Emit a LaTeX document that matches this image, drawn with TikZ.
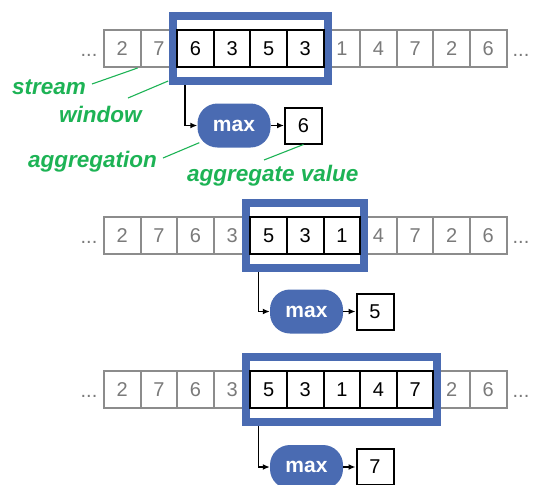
\documentclass[tikz,border=0pt]{standalone}
\usepackage{fontspec}
\setmainfont{Liberation Sans}
\usetikzlibrary{arrows.meta}
\definecolor{wblue}{HTML}{4A6BB2}
\definecolor{lgreen}{HTML}{1DB355}
\definecolor{cgray}{HTML}{8C8C8C}
\definecolor{tgray}{HTML}{7A7A7A}
\begin{document}
\begin{tikzpicture}[x=1pt,y=-1pt,
  gcell/.style={draw=cgray, line width=2pt, minimum width=36.6pt, minimum height=37pt, inner sep=0pt, text=tgray, font=\fontsize{20}{20}\selectfont},
  bcell/.style={draw=black, line width=2pt, minimum width=36.6pt, minimum height=37pt, inner sep=0pt, text=black, font=\fontsize{20}{20}\selectfont},
  winframe/.style={draw=wblue, line width=8pt, fill=white, minimum height=65pt, inner sep=0pt},
  aggr/.style={fill=wblue, draw=none, rounded corners=20pt, minimum width=73pt, minimum height=44pt, text=white, font=\bfseries\fontsize{21}{21}\selectfont, inner sep=0pt},
  valbox/.style={draw=black, line width=2pt, minimum width=37pt, minimum height=36pt, inner sep=0pt, font=\fontsize{20}{20}\selectfont},
  lbl/.style={text=lgreen, font=\bfseries\itshape\fontsize{22.5}{22.5}\selectfont, inner sep=0pt, anchor=base west},
  lblline/.style={draw=lgreen, line width=1.1pt},
  conn/.style={draw=black, line width=1.6pt, -{Latex[length=7pt,width=6pt]}},
  dots/.style={text=tgray, font=\fontsize{20}{20}\selectfont, inner sep=0pt, anchor=base}
]
\useasboundingbox (0,0) rectangle (536,485);

% ---------- row 1 ----------
\foreach \v [count=\i] in {2,7,6,3,5,3,1,4,7,2,6}
  \node[gcell] (ra\i) at ({104+36.6*(\i-0.5)},48.5) {\v};
\node[dots] (rad1) at (89,56.5) {...};
\node[dots] (rad2) at (521,56.5) {...};
\node[winframe, minimum width=154.4pt] (wa) at (250.4,48.5) {};
\foreach \v [count=\i from 3] in {6,3,5,3}
  \node[bcell] (raw\i) at (ra\i) {\v};
\node[aggr] (ma) at (234,125.5) {max};
\node[valbox] (va) at (303.5,125.5) {6};
\draw[conn] ([xshift=16pt]wa.south west) |- (ma.west);
\draw[conn] (ma.east) -- (va.west);

% labels
\node[lbl] (lstream) at (12,94) {stream};
\node[lbl] (lwindow) at (59,122) {window};
\node[lbl] (lagg) at (28,167) {aggregation};
\node[lbl] (lval) at (187,181) {aggregate value};
\coordinate (cs) at (92,84);
\coordinate (cw) at (128,98);
\coordinate (cg) at (163,158);
\coordinate (cv) at (264,160);
\draw[lblline] (cs) -- ([xshift=-4pt]ra1.south east);
\draw[lblline] (cw) -- ([xshift=-1pt,yshift=4pt]wa.south west);
\draw[lblline] (cg) -- ([xshift=2pt,yshift=5pt]ma.south west);
\draw[lblline] (cv) -- (va.south);

% ---------- row 2 ----------
\foreach \v [count=\i] in {2,7,6,3,5,3,1,4,7,2,6}
  \node[gcell] (rb\i) at ({104+36.6*(\i-0.5)},235.5) {\v};
\node[dots] (rbd1) at (89,243.5) {...};
\node[dots] (rbd2) at (521,243.5) {...};
\node[winframe, minimum width=117.8pt] (wb) at (305.3,235.5) {};
\foreach \v [count=\i from 5] in {5,3,1}
  \node[bcell] (rbw\i) at (rb\i) {\v};
\node[aggr] (mb) at (306.5,311.5) {max};
\node[valbox] (vb) at (375,311.5) {5};
\draw[conn] ([xshift=16pt]wb.south west) |- (mb.west);
\draw[conn] (mb.east) -- (vb.west);

% ---------- row 3 ----------
\foreach \v [count=\i] in {2,7,6,3,5,3,1,4,7,2,6}
  \node[gcell] (rc\i) at ({104+36.6*(\i-0.5)},389.5) {\v};
\node[dots] (rcd1) at (89,397.5) {...};
\node[dots] (rcd2) at (521,397.5) {...};
\node[winframe, minimum width=191pt] (wc) at (341.9,389.5) {};
\foreach \v [count=\i from 5] in {5,3,1,4,7}
  \node[bcell] (rcw\i) at (rc\i) {\v};
\node[aggr] (mc) at (306.5,467) {max};
\node[valbox] (vc) at (375,467) {7};
\draw[conn] ([xshift=16pt]wc.south west) |- (mc.west);
\draw[conn] (mc.east) -- (vc.west);
\end{tikzpicture}
\end{document}
